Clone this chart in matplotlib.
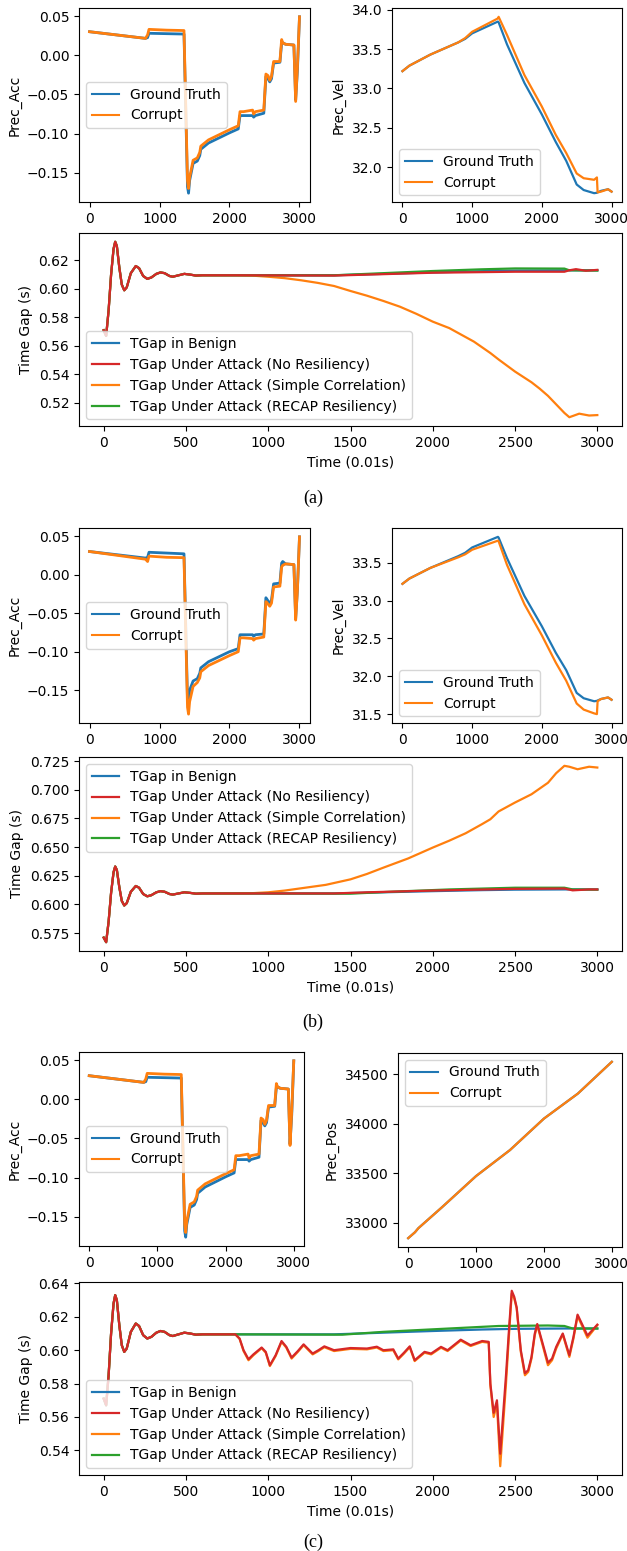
import matplotlib
matplotlib.use("Agg")
import matplotlib.pyplot as plt
from matplotlib.ticker import MultipleLocator

W, H = 627, 1551

BLUE = "#1f77b4"
ORANGE = "#ff7f0e"
RED = "#d62728"
GREEN = "#2ca02c"

# ---- Prec_Acc (shared time axis) ----
acc_t = [0, 800, 830, 850, 1100, 1350, 1400, 1415, 1430, 1480, 1540, 1575, 1590, 1700,
         2000, 2125, 2150, 2200, 2330, 2345, 2370, 2490, 2520, 2550, 2575, 2600, 2630,
         2720, 2745, 2760, 2800, 2920, 2945, 2970, 3000]
acc_gt_a = [0.030, 0.0215, 0.0225, 0.028, 0.0275, 0.027, -0.168, -0.176, -0.160, -0.138,
            -0.135, -0.128, -0.120, -0.112, -0.099, -0.094, -0.077, -0.077, -0.077, -0.079,
            -0.077, -0.074, -0.027, -0.030, -0.034, -0.030, -0.010, -0.009, 0.015, 0.016,
            0.014, 0.013, -0.057, -0.020, 0.049]
acc_corrupt_a = [0.030, 0.0215, 0.026, 0.033, 0.032, 0.0315, -0.160, -0.170, -0.156, -0.134,
                 -0.131, -0.124, -0.116, -0.108, -0.095, -0.090, -0.072, -0.072, -0.070, -0.075,
                 -0.072, -0.070, -0.024, -0.026, -0.032, -0.027, -0.008, -0.008, 0.020, 0.016,
                 0.014, 0.013, -0.059, -0.015, 0.049]
acc_gt_b = [0.030, 0.0215, 0.0225, 0.029, 0.028, 0.027, -0.162, -0.170, -0.150, -0.138,
            -0.135, -0.128, -0.121, -0.113, -0.100, -0.096, -0.078, -0.078, -0.078, -0.080,
            -0.078, -0.077, -0.030, -0.034, -0.038, -0.033, -0.012, -0.011, 0.015, 0.017,
            0.014, 0.013, -0.057, -0.020, 0.049]
acc_corrupt_b = [0.030, 0.020, 0.017, 0.024, 0.0225, 0.022, -0.172, -0.181, -0.165, -0.145,
                 -0.140, -0.134, -0.126, -0.118, -0.105, -0.100, -0.082, -0.082, -0.083, -0.085,
                 -0.083, -0.081, -0.035, -0.038, -0.041, -0.037, -0.016, -0.015, 0.010, 0.012,
                 0.014, 0.013, -0.059, -0.020, 0.049]

# ---- Prec_Vel ----
vel_t = [0, 100, 400, 800, 900, 1000, 1370, 1380, 1500, 1750, 2000, 2200, 2350, 2500,
         2600, 2750, 2790, 2800, 2850, 2950, 3000]
vel_gt_a = [33.22, 33.29, 33.43, 33.585, 33.63, 33.70, 33.85, 33.84, 33.56, 33.07, 32.67,
            32.32, 32.08, 31.78, 31.71, 31.67, 31.675, 31.68, 31.70, 31.72, 31.69]
vel_corrupt_a = [33.22, 33.29, 33.43, 33.585, 33.64, 33.72, 33.89, 33.91, 33.68, 33.17, 32.77,
                 32.41, 32.18, 31.92, 31.86, 31.84, 31.87, 31.68, 31.69, 31.72, 31.69]
vel_gt_b = [33.22, 33.29, 33.43, 33.585, 33.63, 33.70, 33.84, 33.83, 33.56, 33.06, 32.66,
            32.31, 32.08, 31.78, 31.71, 31.67, 31.675, 31.68, 31.70, 31.72, 31.69]
vel_corrupt_b = [33.22, 33.29, 33.43, 33.57, 33.61, 33.67, 33.79, 33.78, 33.47, 32.95, 32.54,
                 32.18, 31.94, 31.64, 31.56, 31.51, 31.50, 31.67, 31.70, 31.72, 31.69]

# ---- Prec_Pos ----
pos_t = [0, 100, 150, 500, 1000, 1500, 2000, 2500, 3000]
pos_gt_c = [32845, 32905, 32946, 33159, 33473, 33736, 34054, 34307, 34628]
pos_corrupt_c = [32845, 32905, 32946, 33159, 33473, 33736, 34054, 34307, 34628]

# ---- Time gap: common start-up transient ----
tg_t0 = [0, 15, 30, 45, 60, 70, 80, 95, 110, 125, 140, 165, 195, 215, 240, 265, 290,
         320, 345, 370, 400, 420, 455, 490, 525, 560, 600]
tg_v0 = [0.571, 0.567, 0.585, 0.610, 0.628, 0.633, 0.630, 0.615, 0.603, 0.599, 0.601,
         0.611, 0.616, 0.6145, 0.609, 0.607, 0.608, 0.6105, 0.6115, 0.611, 0.609, 0.6085,
         0.6095, 0.6105, 0.6100, 0.6093, 0.6095]

benign_t = [800, 1400, 1700, 2000, 2300, 2500, 2800, 3000]
benign_v = [0.6095, 0.6095, 0.6105, 0.6115, 0.6124, 0.6128, 0.6130, 0.6130]

# (a)
nores_t_a = [800, 1400, 1700, 2000, 2500, 2800, 2830, 2870, 2930, 3000]
nores_v_a = [0.6095, 0.6093, 0.6103, 0.6113, 0.6120, 0.6120, 0.6130, 0.6138, 0.6127, 0.6133]
simple_t_a = [800, 900, 1000, 1100, 1200, 1300, 1400, 1500, 1600, 1700, 1800, 1900, 2000,
              2100, 2250, 2350, 2400, 2500, 2600, 2650, 2700, 2750, 2800, 2830, 2890, 2950, 3000]
simple_v_a = [0.6095, 0.6093, 0.6085, 0.6075, 0.6060, 0.6042, 0.6020, 0.5985, 0.5952,
              0.5915, 0.5875, 0.5825, 0.5770, 0.5725, 0.5630, 0.5550, 0.5505, 0.5420,
              0.5345, 0.5300, 0.5250, 0.5190, 0.5130, 0.5100, 0.5125, 0.5112, 0.5115]
recap_t_a = [800, 1400, 1700, 2000, 2300, 2500, 2800, 2830, 3000]
recap_v_a = [0.6095, 0.6095, 0.6110, 0.6125, 0.6137, 0.6143, 0.6142, 0.6130, 0.6128]

# (b)
nores_t_b = [800, 1400, 1600, 2000, 2500, 2800, 2850, 2950, 3000]
nores_v_b = [0.6095, 0.6095, 0.6105, 0.6120, 0.6135, 0.6138, 0.6122, 0.6130, 0.6130]
simple_t_b = [800, 900, 1000, 1100, 1200, 1350, 1500, 1600, 1700, 1850, 2000, 2100, 2200,
              2300, 2350, 2400, 2500, 2600, 2700, 2750, 2800, 2830, 2880, 2950, 3000]
simple_v_b = [0.6095, 0.6097, 0.6105, 0.6120, 0.6140, 0.6170, 0.6218, 0.6265, 0.6320,
              0.6400, 0.6495, 0.6555, 0.6620, 0.6700, 0.6742, 0.6810, 0.6888, 0.6960,
              0.7060, 0.7144, 0.7208, 0.7200, 0.7178, 0.7200, 0.7193]
recap_t_b = [800, 1500, 1750, 2100, 2500, 2800, 2850, 3000]
recap_v_b = [0.6095, 0.6093, 0.6110, 0.6130, 0.6145, 0.6145, 0.6130, 0.6128]

# (c)
attack_t_c = [800, 826, 850, 880, 910, 960, 985, 1010, 1045, 1081, 1110, 1142, 1180, 1215,
              1245, 1270, 1305, 1341, 1400, 1500, 1600, 1660, 1700, 1760, 1790, 1825, 1860,
              1890, 1950, 1990, 2050, 2090, 2170, 2230, 2300, 2340, 2350, 2370, 2390, 2410,
              2445, 2465, 2480, 2495, 2510, 2535, 2560, 2580, 2600, 2620, 2635, 2665, 2700,
              2725, 2750, 2790, 2830, 2855, 2880, 2940, 3000]
nores_v_c = [0.6095, 0.6070, 0.6000, 0.5946, 0.5975, 0.6016, 0.5990, 0.5910, 0.5970, 0.6055,
             0.6020, 0.5956, 0.5995, 0.6035, 0.6005, 0.5980, 0.6000, 0.6023, 0.6000, 0.6013,
             0.6010, 0.6021, 0.6000, 0.6005, 0.5950, 0.5985, 0.6023, 0.5940, 0.5990, 0.5980,
             0.6020, 0.6000, 0.6063, 0.6030, 0.6055, 0.6050, 0.5800, 0.5625, 0.5700, 0.5380,
             0.5850, 0.6150, 0.6356, 0.6320, 0.6256, 0.6000, 0.5862, 0.5880, 0.5960, 0.6100,
             0.6157, 0.6050, 0.5925, 0.5950, 0.6020, 0.6100, 0.5970, 0.6080, 0.6213, 0.6088,
             0.6153]
simple_v_c = [0.6095, 0.6068, 0.5995, 0.5940, 0.5970, 0.6012, 0.5985, 0.5905, 0.5965, 0.6050,
              0.6015, 0.5950, 0.5990, 0.6030, 0.6000, 0.5975, 0.5995, 0.6018, 0.5995, 0.6008,
              0.6005, 0.6016, 0.5995, 0.6000, 0.5945, 0.5980, 0.6018, 0.5935, 0.5985, 0.5975,
              0.6015, 0.5995, 0.6058, 0.6025, 0.6050, 0.6045, 0.5790, 0.5600, 0.5680, 0.5305,
              0.5800, 0.6120, 0.6340, 0.6310, 0.6250, 0.5990, 0.5850, 0.5870, 0.5950, 0.6090,
              0.6150, 0.6040, 0.5910, 0.5940, 0.6010, 0.6095, 0.5960, 0.6070, 0.6205, 0.6075,
              0.6150]
recap_t_c = [800, 1450, 1700, 2000, 2400, 2700, 2800, 2850, 3000]
recap_v_c = [0.6095, 0.6093, 0.6110, 0.6125, 0.6145, 0.6148, 0.6145, 0.6130, 0.6130]

TGAP_LABELS = ["TGap in Benign", "TGap Under Attack (No Resiliency)",
               "TGap Under Attack (Simple Correlation)", "TGap Under Attack (RECAP Resiliency)"]


def add_axes(fig, left, right, top, bottom):
    return fig.add_axes([left / W, 1 - bottom / H, (right - left) / W, (bottom - top) / H])


def plot_sensor(ax, t, gt, corrupt, ylabel, loc, lw=1.6):
    hg, = ax.plot(t, gt, color=BLUE, lw=lw)
    hc, = ax.plot(t, corrupt, color=ORANGE, lw=lw)
    ax.set_ylabel(ylabel)
    leg = ax.legend([hg, hc], ["Ground Truth", "Corrupt"], loc=loc)
    for line in leg.get_lines():
        line.set_linewidth(1.5)


def plot_tgap(ax, nores, simple, recap, loc, ystep):
    hb, = ax.plot(tg_t0 + benign_t, tg_v0 + benign_v, color=BLUE, lw=1.6)
    ho, = ax.plot(tg_t0 + simple[0], tg_v0 + simple[1], color=ORANGE, lw=1.6)
    hg, = ax.plot(tg_t0 + recap[0], tg_v0 + recap[1], color=GREEN, lw=1.6)
    hr, = ax.plot(tg_t0 + nores[0], tg_v0 + nores[1], color=RED, lw=1.6)
    ax.yaxis.set_major_locator(MultipleLocator(ystep))
    ax.set_ylabel("Time Gap (s)")
    ax.set_xlabel("Time (0.01s)")
    ax.legend([hb, hr, ho, hg], TGAP_LABELS, loc=loc)


def caption(fig, y, text):
    fig.text(313 / W, 1 - y / H, text, ha="center", va="center", fontsize=13,
             family="Liberation Serif")


fig = plt.figure(figsize=(W / 100, H / 100), dpi=100)

# (a)
ax = add_axes(fig, 79, 310, 8, 202)
plot_sensor(ax, acc_t, acc_gt_a, acc_corrupt_a, "Prec_Acc", "center left", lw=2)
ax = add_axes(fig, 392, 622, 8, 202)
plot_sensor(ax, vel_t, vel_gt_a, vel_corrupt_a, "Prec_Vel", "lower left")
ax = add_axes(fig, 79, 622, 233, 426)
plot_tgap(ax, (nores_t_a, nores_v_a), (simple_t_a, simple_v_a), (recap_t_a, recap_v_a),
          "lower left", 0.02)
caption(fig, 498, "(a)")

# (b)
ax = add_axes(fig, 79, 310, 528, 723)
plot_sensor(ax, acc_t, acc_gt_b, acc_corrupt_b, "Prec_Acc", "center left", lw=2)
ax = add_axes(fig, 392, 622, 528, 723)
plot_sensor(ax, vel_t, vel_gt_b, vel_corrupt_b, "Prec_Vel", "lower left")
ax = add_axes(fig, 79, 622, 757, 951)
plot_tgap(ax, (nores_t_b, nores_v_b), (simple_t_b, simple_v_b), (recap_t_b, recap_v_b),
          "upper left", 0.025)
caption(fig, 1022, "(b)")

# (c)
ax = add_axes(fig, 79, 304, 1052, 1246)
plot_sensor(ax, acc_t, acc_gt_a, acc_corrupt_a, "Prec_Acc", "center left", lw=2)
ax = add_axes(fig, 398, 622, 1053, 1247)
plot_sensor(ax, pos_t, pos_gt_c, pos_corrupt_c, "Prec_Pos", "upper left")
ax = add_axes(fig, 79, 622, 1282, 1475)
plot_tgap(ax, (attack_t_c, nores_v_c), (attack_t_c, simple_v_c), (recap_t_c, recap_v_c),
          "lower left", 0.02)
caption(fig, 1542, "(c)")

fig.savefig("out.png", dpi=100)
